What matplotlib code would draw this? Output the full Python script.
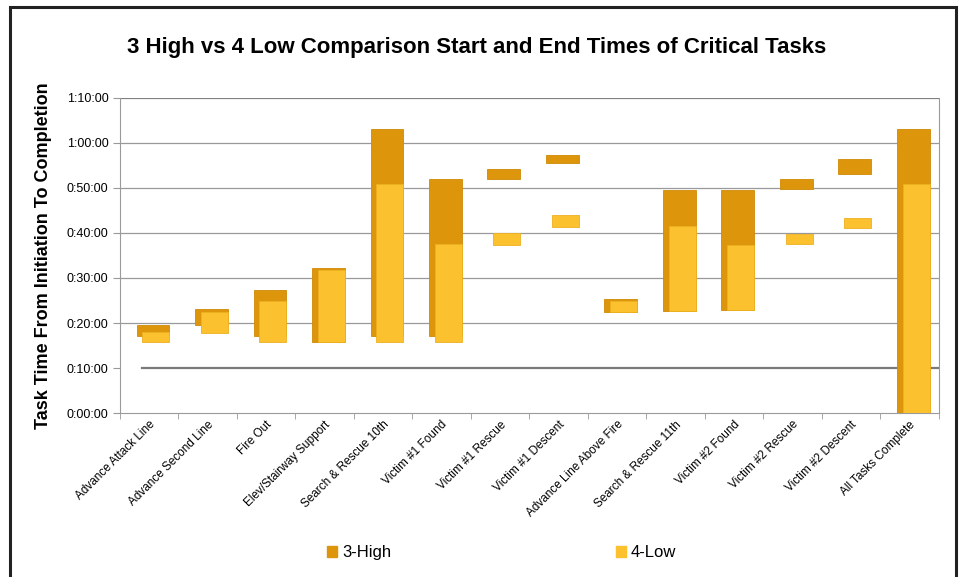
import numpy as np
import matplotlib
matplotlib.use("Agg")
import matplotlib.pyplot as plt
from matplotlib.patches import Patch, Rectangle

plt.rcParams['font.family'] = ['Liberation Sans', 'DejaVu Sans']

# task names
tasks = ["Advance Attack Line", "Advance Second Line", "Fire Out",
         "Elev/Stairway Support", "Search & Rescue 10th", "Victim #1 Found",
         "Victim #1 Rescue", "Victim #1 Descent", "Advance Line Above Fire",
         "Search & Rescue 11th", "Victim #2 Found", "Victim #2 Rescue",
         "Victim #2 Descent", "All Tasks Complete"]

# start / end times in minutes
high_start = [17.2, 19.6, 17.2, 15.7, 17.2, 17.2, 51.9, 55.5, 22.4, 22.7, 22.9, 49.7, 53.2, 0.0]
high_end = [19.6, 23.2, 27.3, 32.3, 63.0, 51.9, 54.3, 57.4, 25.3, 49.5, 49.5, 51.9, 56.4, 63.0]
low_start = [15.7, 17.7, 15.7, 15.7, 15.7, 15.7, 37.3, 41.4, 22.4, 22.7, 22.9, 37.5, 41.0, 0.0]
low_end = [18.0, 22.5, 24.8, 31.8, 50.9, 37.5, 39.9, 43.9, 25.0, 41.6, 37.3, 39.7, 43.4, 50.9]

dark = "#DD950B"
light = "#FCC12F"

fig = plt.figure(figsize=(9.61, 5.77), dpi=100)
ax = fig.add_axes([0.1244, 0.2842, 0.8522, 0.546])

x = np.arange(len(tasks))
hs = np.array(high_start); he = np.array(high_end)
ls = np.array(low_start); le = np.array(low_end)

# gridlines
for m in range(10, 70, 10):
    if m == 10:
        ax.plot([-0.12, 13.5], [m, m], color="#7a7a7a", lw=1.6, zorder=1)
    else:
        ax.axhline(m, color="#999999", lw=0.9, zorder=1)
ax.axhline(70, color="#808080", lw=1.6, zorder=1)

ax.bar(x + 0.07, he - hs, bottom=hs, width=0.56, color=dark,
       edgecolor="#D08A06", lw=0.6, zorder=2)
ax.bar(x + 0.12, le - ls, bottom=ls, width=0.46, color=light,
       edgecolor="#EDB020", lw=0.6, zorder=3)

ax.set_xlim(-0.5, len(tasks) - 0.5)
ax.set_ylim(0, 70)
ax.set_yticks(np.arange(0, 71, 10))
ax.set_yticklabels(["%d:%02d:00" % (m // 60, m % 60) for m in range(0, 71, 10)], fontsize=9)
ax.set_xticks(x)
ax.set_xticklabels(tasks, rotation=45, ha="right", rotation_mode="anchor", fontsize=8.5)
ax.set_xticks(np.arange(-0.5, len(tasks)), minor=True)
ax.tick_params(axis="x", which="major", length=0, pad=4)
ax.tick_params(axis="x", which="minor", length=4, color="#999999")
ax.tick_params(axis="y", length=5, color="#999999", pad=3)
for s in ["left", "bottom", "right"]:
    ax.spines[s].set_color("#9a9a9a")
ax.spines["top"].set_visible(False)

ax.set_ylabel("Task Time From Initiation To Completion", fontsize=13,
              fontweight="bold")
ax.yaxis.set_label_coords(-0.083, 0.5)
fig.text(0.496, 0.9076, "3 High vs 4 Low Comparison Start and End Times of Critical Tasks",
         ha="center", va="baseline", fontsize=16, fontweight="bold")

handles = [Patch(color=dark), Patch(color=light)]
fig.legend(handles, ["3-High", "4-Low"], loc="center", ncol=2,
           bbox_to_anchor=(0.522, 0.042), frameon=False, fontsize=12,
           handlelength=0.6, handleheight=0.6, handletextpad=0.3,
           columnspacing=13.5)

fig.patches.append(Rectangle((0.0104, -0.02), 0.9844, 1.0079, transform=fig.transFigure,
                             fill=False, edgecolor="#222222", lw=2.2))

fig.savefig("out.png", dpi=100)
